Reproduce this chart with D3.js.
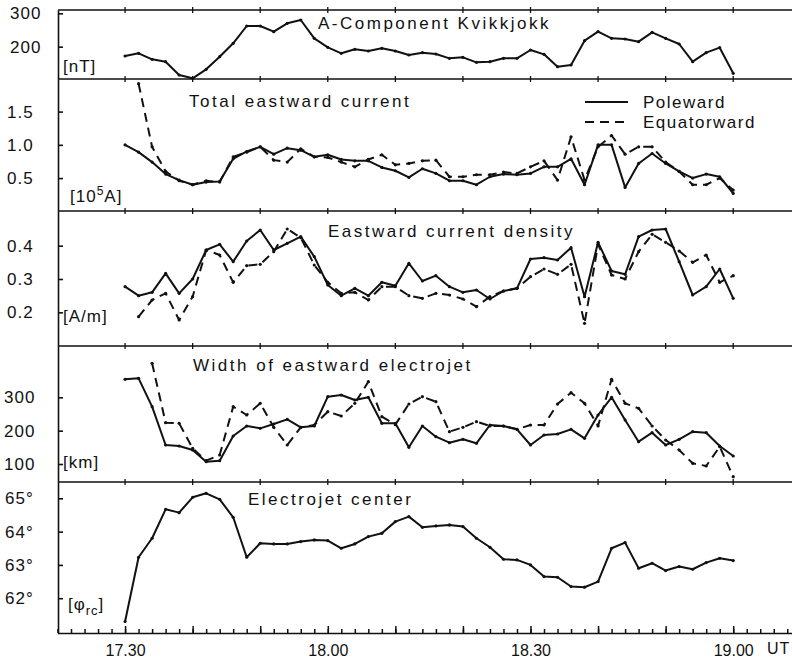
<!DOCTYPE html>
<html>
<head>
<meta charset="utf-8">
<script src="https://cdn.jsdelivr.net/npm/d3@7"></script>
<style>
  body { margin: 0; background: #fff; }
  svg { display: block; }
  text { font-family: "Liberation Sans", Arial, sans-serif; fill: #111; }
</style>
</head>
<body>
<div id="chart"></div>
<script>
// time in minutes after 17.00 UT, one reading every 2 min
var times = [30, 32, 34, 36, 38, 40, 42, 44, 46, 48,
             50, 52, 54, 56, 58, 60, 62, 64, 66, 68,
             70, 72, 74, 76, 78, 80, 82, 84, 86, 88,
             90, 92, 94, 96, 98, 100, 102, 104, 106, 108,
             110, 112, 114, 116, 118, 120];

var aComponent = [172, 180, 162, 155, 115, 105, 132, 170, 210, 262,
                  262, 245, 270, 280, 225, 198, 180, 192, 187, 195,
                  187, 175, 182, 178, 165, 168, 153, 155, 165, 165,
                  190, 177, 140, 145, 218, 245, 225, 223, 215, 243,
                  225, 208, 155, 182, 197, 120];

var currentPole = [1.00, 0.89, 0.74, 0.56, 0.47, 0.40, 0.44, 0.45, 0.79, 0.90,
                   0.97, 0.86, 0.95, 0.92, 0.82, 0.85, 0.78, 0.76, 0.76, 0.66,
                   0.61, 0.51, 0.64, 0.57, 0.46, 0.46, 0.40, 0.52, 0.56, 0.55,
                   0.57, 0.67, 0.67, 0.79, 0.40, 1.00, 1.00, 0.36, 0.72, 0.87,
                   0.72, 0.60, 0.50, 0.56, 0.52, 0.27];
var currentEq = [null, 1.92, 0.97, 0.60, 0.46, 0.40, 0.46, 0.44, 0.82, 0.89,
                 0.97, 0.77, 0.74, 0.94, 0.82, 0.81, 0.74, 0.67, 0.78, 0.85,
                 0.70, 0.72, 0.76, 0.77, 0.52, 0.52, 0.55, 0.55, 0.59, 0.57,
                 0.67, 0.76, 0.47, 1.12, 0.47, 0.97, 1.14, 0.86, 0.97, 0.97,
                 0.74, 0.60, 0.40, 0.40, 0.50, 0.32];

var densityPole = [0.277, 0.250, 0.260, 0.317, 0.257, 0.300, 0.387, 0.404, 0.352, 0.414,
                   0.447, 0.387, 0.407, 0.427, 0.367, 0.282, 0.250, 0.272, 0.250, 0.290,
                   0.280, 0.347, 0.294, 0.310, 0.277, 0.260, 0.267, 0.240, 0.264, 0.272,
                   0.360, 0.364, 0.357, 0.394, 0.247, 0.410, 0.324, 0.314, 0.427, 0.447,
                   0.450, 0.352, 0.252, 0.277, 0.330, 0.242];
var densityEq = [null, 0.187, 0.237, 0.257, 0.177, 0.247, 0.387, 0.372, 0.290, 0.340,
                 0.344, 0.382, 0.450, 0.424, 0.342, 0.290, 0.257, 0.260, 0.237, 0.277,
                 0.277, 0.250, 0.242, 0.257, 0.252, 0.240, 0.217, 0.247, 0.264, 0.272,
                 0.307, 0.330, 0.314, 0.344, 0.167, 0.404, 0.312, 0.300, 0.382, 0.434,
                 0.410, 0.384, 0.350, 0.372, 0.290, 0.310];

var widthPole = [354, 357, 272, 157, 154, 142, 107, 110, 184, 214,
                 207, 220, 234, 210, 214, 302, 307, 292, 300, 222,
                 222, 150, 214, 182, 164, 174, 162, 217, 214, 204,
                 157, 187, 190, 204, 177, 247, 300, 232, 167, 194,
                 157, 174, 197, 194, 154, 124];
var widthEq = [null, null, 402, 224, 222, 147, 110, 127, 272, 247,
               282, 210, 157, 210, 217, 257, 244, 282, 347, 242,
               218, 280, 302, 287, 197, 210, 227, 214, 214, 204,
               217, 217, 280, 314, 282, 214, 354, 282, 267, 214,
               172, 142, 102, 94, 152, 62];

var center = [61.30, 63.23, 63.80, 64.67, 64.57, 65.03, 65.15, 64.97, 64.43, 63.23,
              63.65, 63.63, 63.63, 63.70, 63.75, 63.73, 63.50, 63.63, 63.85, 63.95,
              64.30, 64.45, 64.13, 64.17, 64.20, 64.15, 63.80, 63.53, 63.17, 63.15,
              63.00, 62.65, 62.63, 62.35, 62.33, 62.50, 63.50, 63.67, 62.90, 63.05,
              62.83, 62.95, 62.87, 63.07, 63.20, 63.13];

var xLabels = [30, 60, 90, 120];

var width = 792,
    height = 659,
    axisX = 58;

var svg = d3.select('#chart').append('svg')
    .attr('width', width)
    .attr('height', height);

var x = d3.scaleLinear().domain([20, 128.7]).range([57.5, 792]);

var panels = [
    {top: 10, bottom: 79, domain: [103, 310], ticks: [200, 300], fmt: d3.format('d'),
     title: 'A-Component Kvikkjokk', tx: 318, ty: 29, unit: 'nT', ux: 63, uy: 72, lx: 10,
     series: [aComponent]},
    {top: 79, bottom: 211, domain: [0.005, 1.99], ticks: [0.5, 1.0, 1.5], fmt: d3.format('.1f'),
     title: 'Total eastward current', tx: 189, ty: 107, unit: 'exp', ux: 70, uy: 202, lx: 7,
     series: [currentPole, currentEq]},
    {top: 211, bottom: 346, domain: [0.099, 0.504], ticks: [0.2, 0.3, 0.4], fmt: d3.format('.1f'),
     title: 'Eastward current density', tx: 328, ty: 237, unit: 'A/m', ux: 63, uy: 322, lx: 7,
     series: [densityPole, densityEq]},
    {top: 346, bottom: 482, domain: [46, 454], ticks: [100, 200, 300], fmt: d3.format('d'),
     title: 'Width of eastward electrojet', tx: 193, ty: 371, unit: 'km', ux: 63, uy: 468, lx: 4,
     series: [widthPole, widthEq]},
    {top: 482, bottom: 633, domain: [60.955, 65.49], ticks: [62, 63, 64, 65], fmt: function(d) { return d + '°'; },
     title: 'Electrojet center', tx: 248, ty: 505, unit: 'phi', ux: 68, uy: 610, lx: 5,
     series: [center]}
];

// horizontal frame lines with small ticks every 10 min
var majors = d3.range(20, 129, 10);
[10, 79, 211, 346, 482].forEach(function(yy) {
    svg.append('line')
        .attr('x1', axisX).attr('x2', width)
        .attr('y1', yy).attr('y2', yy)
        .attr('stroke', '#111').attr('stroke-width', 1.6);
    svg.selectAll(null)
        .data(majors.filter(function(t) { return t > 20; }))
        .enter().append('line')
        .attr('x1', function(t) { return x(t); })
        .attr('x2', function(t) { return x(t); })
        .attr('y1', yy - 3).attr('y2', yy + 3)
        .attr('stroke', '#111').attr('stroke-width', 1.3);
});

panels.forEach(function(p) {
    var y = d3.scaleLinear().domain(p.domain).range([p.bottom, p.top]);
    var g = svg.append('g');

    g.append('g')
        .attr('transform', 'translate(' + axisX + ',0)')
        .call(d3.axisRight(y).tickValues(p.ticks).tickSize(5).tickSizeOuter(0).tickFormat(''))
        .call(function(a) {
            a.selectAll('path, line').attr('stroke', '#111').attr('stroke-width', 1.6);
        });

    g.selectAll('.tl')
        .data(p.ticks)
        .enter().append('text')
        .attr('x', p.lx)
        .attr('y', function(d) { return y(d); })
        .attr('dy', '0.36em')
        .attr('font-size', 17)
        .attr('letter-spacing', 1)
        .text(p.fmt);

    g.append('text')
        .attr('x', p.tx).attr('y', p.ty)
        .attr('font-size', 17)
        .attr('letter-spacing', 2.5)
        .text(p.title);

    var u = g.append('text')
        .attr('x', p.ux).attr('y', p.uy)
        .attr('font-size', 17)
        .attr('letter-spacing', 1);
    if (p.unit === 'exp') {
        u.append('tspan').text('[10');
        u.append('tspan').attr('dy', -7).attr('font-size', 12).text('5');
        u.append('tspan').attr('dy', 7).text('A]');
    } else if (p.unit === 'phi') {
        u.append('tspan').text('[φ');
        u.append('tspan').attr('dy', 5).attr('font-size', 13).text('rc');
        u.append('tspan').attr('dy', -5).text(']');
    } else {
        u.text('[' + p.unit + ']');
    }

    var line = d3.line()
        .defined(function(d) { return d[1] != null; })
        .x(function(d) { return x(d[0]); })
        .y(function(d) { return y(d[1]); });

    p.series.forEach(function(values, i) {
        var pts = times.map(function(t, k) { return [t, values[k]]; });
        g.append('path')
            .datum(pts)
            .attr('d', line)
            .attr('fill', 'none')
            .attr('stroke', '#111')
            .attr('stroke-width', 2)
            .attr('stroke-linejoin', 'round')
            .attr('stroke-dasharray', i === 1 ? '9,6' : null);
        g.selectAll(null)
            .data(pts.filter(function(d) { return d[1] != null; }))
            .enter().append('circle')
            .attr('cx', function(d) { return x(d[0]); })
            .attr('cy', function(d) { return y(d[1]); })
            .attr('r', 1.6)
            .attr('fill', '#111');
    });
});

// legend in the current panel
var legend = svg.append('g');
[['Poleward', null, 102], ['Equatorward', '9,6', 122]].forEach(function(l) {
    legend.append('line')
        .attr('x1', 585).attr('x2', 628)
        .attr('y1', l[2]).attr('y2', l[2])
        .attr('stroke', '#111').attr('stroke-width', 1.8)
        .attr('stroke-dasharray', l[1]);
    legend.append('text')
        .attr('x', 643).attr('y', l[2] + 6)
        .attr('font-size', 17)
        .attr('letter-spacing', 1.5)
        .text(l[0]);
});

// bottom time axis
var minors = d3.range(20, 129, 2);
var fmtTime = function(t) {
    if (xLabels.indexOf(t) < 0) return '';
    var h = 17 + Math.floor(t / 60), m = t % 60;
    return h + '.' + (m < 10 ? '0' + m : m);
};

svg.append('g')
    .attr('transform', 'translate(0,633)')
    .call(d3.axisBottom(x).tickValues(minors).tickSize(-4).tickSizeOuter(0).tickFormat(''))
    .call(function(a) {
        a.selectAll('path, line').attr('stroke', '#111').attr('stroke-width', 1.5);
    });

svg.append('g')
    .attr('transform', 'translate(0,633)')
    .call(d3.axisBottom(x).tickValues(majors.filter(function(t) { return t > 20; }))
        .tickSize(-7).tickPadding(12).tickFormat(fmtTime))
    .call(function(a) {
        a.select('.domain').remove();
        a.selectAll('line').attr('stroke', '#111').attr('stroke-width', 1.5);
        a.selectAll('text')
            .attr('font-family', '"Liberation Sans", Arial, sans-serif')
            .attr('font-size', 16)
            .attr('fill', '#111');
    });

svg.append('text')
    .attr('x', 767).attr('y', 654)
    .attr('font-size', 16)
    .attr('letter-spacing', 1)
    .text('UT');
</script>
</body>
</html>
